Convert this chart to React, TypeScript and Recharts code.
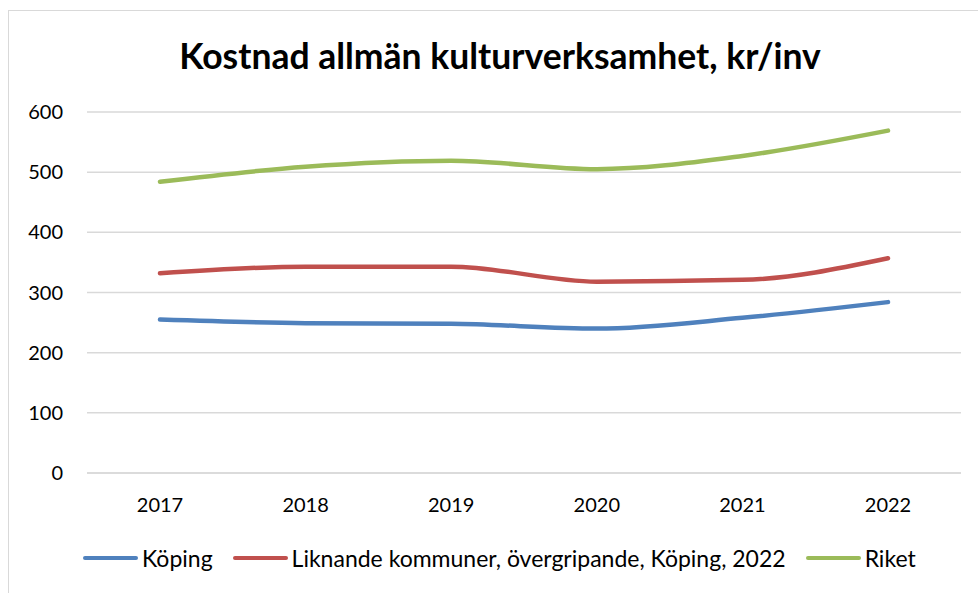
import { LineChart, Line, XAxis, YAxis, CartesianGrid } from 'recharts'

const years = ['2017', '2018', '2019', '2020', '2021', '2022']
const koping = [255, 249, 248, 240, 258, 284]
const liknande = [332, 343, 343, 318, 321, 357]
const riket = [484, 509, 519, 505, 527, 569]
const yTicks = [0, 100, 200, 300, 400, 500, 600]

const seriesInfo = [
  { key: 'koping', name: 'Köping', color: '#4f81bd' },
  { key: 'liknande', name: 'Liknande kommuner, övergripande, Köping, 2022', color: '#c0504d' },
  { key: 'riket', name: 'Riket', color: '#9bbb59' },
]

const data = years.map((y, i) => ({
  year: y,
  koping: koping[i],
  liknande: liknande[i],
  riket: riket[i],
}))

const FONT = 'Lato, "Open Sans", sans-serif'

function LegendRow() {
  return (
    <div
      style={{
        position: 'absolute',
        top: 544,
        left: 83,
        display: 'flex',
        alignItems: 'center',
        fontFamily: FONT,
        fontSize: 23,
        color: '#000',
        whiteSpace: 'nowrap',
      }}
    >
      {seriesInfo.map((s, i) => (
        <div key={s.key} style={{ display: 'flex', alignItems: 'center', marginLeft: i === 0 ? 0 : 20 }}>
          <span style={{ display: 'inline-block', width: 55, height: 4, background: s.color, borderRadius: 2, marginRight: 4 }} />
          <span>{s.name}</span>
        </div>
      ))}
    </div>
  )
}

export default function App() {
  return (
    <div style={{ position: 'absolute', left: 0, top: 0, width: 978, height: 593, background: '#fff', overflow: 'hidden' }}>
      {/* ram runt diagrammet, som i Excel */}
      <div
        style={{
          position: 'absolute',
          left: 8,
          top: 10,
          width: 990,
          height: 600,
          border: '1.5px solid #d9d9d9',
        }}
      />
      <div
        style={{
          position: 'absolute',
          left: 0,
          width: 1000,
          top: 34,
          textAlign: 'center',
          fontFamily: FONT,
          fontWeight: 700,
          fontSize: 35.5,
          color: '#000',
        }}
      >
        Kostnad allmän kulturverksamhet, kr/inv
      </div>
      <LineChart
        width={978}
        height={593}
        data={data}
        margin={{ top: 112, right: 17, left: 20, bottom: 60 }}
        style={{ position: 'absolute', left: 0, top: 0 }}
      >
        <CartesianGrid vertical={false} stroke="#d9d9d9" strokeWidth={1.5} />
        <XAxis
          dataKey="year"
          padding={{ left: 73, right: 73 }}
          axisLine={{ stroke: '#d9d9d9', strokeWidth: 1.5 }}
          tickLine={false}
          tickSize={0}
          tickMargin={25}
          height={60}
          tick={{ fill: '#000', fontSize: 20, fontFamily: FONT }}
        />
        <YAxis
          domain={[0, 600]}
          ticks={yTicks}
          width={67}
          axisLine={false}
          tickLine={false}
          tickSize={0}
          tickMargin={24}
          tick={{ fill: '#000', fontSize: 20, fontFamily: FONT }}
        />
        {seriesInfo.map((s) => (
          <Line
            key={s.key}
            type="monotone"
            dataKey={s.key}
            name={s.name}
            stroke={s.color}
            strokeWidth={4.5}
            strokeLinecap="round"
            dot={false}
            activeDot={false}
            isAnimationActive={false}
          />
        ))}
      </LineChart>
      <LegendRow />
    </div>
  )
}
